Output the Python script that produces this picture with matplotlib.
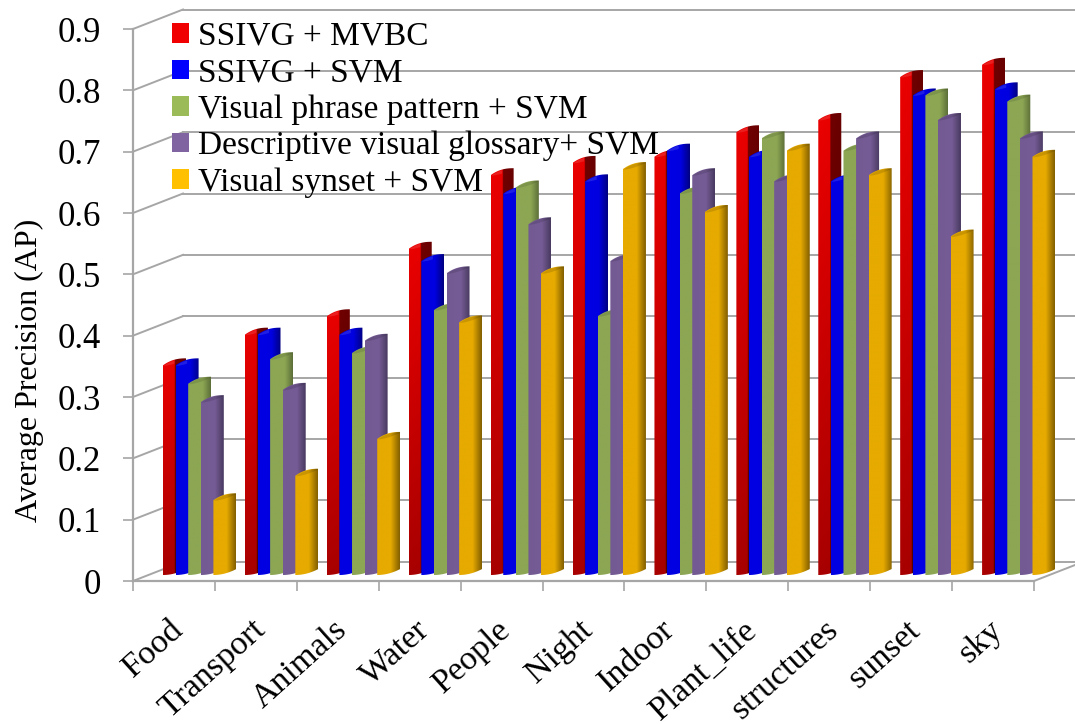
import numpy as np
from matplotlib import pyplot as plt
from matplotlib.patches import Patch, Polygon

categories = ['Food', 'Transport', 'Animals', 'Water', 'People', 'Night', 'Indoor',
              'Plant_life', 'structures', 'sunset', 'sky']
series_names = ['SSIVG + MVBC', 'SSIVG + SVM', 'Visual phrase pattern + SVM',
                'Descriptive visual glossary+ SVM', 'Visual synset + SVM']
ssivg_mvbc = [0.35, 0.40, 0.43, 0.54, 0.66, 0.68, 0.69, 0.73, 0.75, 0.82, 0.84]
ssivg_svm = [0.35, 0.40, 0.40, 0.52, 0.63, 0.65, 0.70, 0.69, 0.65, 0.79, 0.80]
phrase_svm = [0.32, 0.36, 0.37, 0.44, 0.64, 0.43, 0.63, 0.72, 0.70, 0.79, 0.78]
glossary_svm = [0.29, 0.31, 0.39, 0.50, 0.58, 0.52, 0.66, 0.65, 0.72, 0.75, 0.72]
synset_svm = [0.13, 0.17, 0.23, 0.42, 0.50, 0.67, 0.60, 0.70, 0.66, 0.56, 0.69]
y_ticks = [0, 0.1, 0.2, 0.3, 0.4, 0.5, 0.6, 0.7, 0.8, 0.9]
y_labels = ['0', '0.1', '0.2', '0.3', '0.4', '0.5', '0.6', '0.7', '0.8', '0.9']

all_series = [ssivg_mvbc, ssivg_svm, phrase_svm, glossary_svm, synset_svm]
legend_colors = ['#f00000', '#0000ff', '#9bbb59', '#8064a2', '#ffc000']
# horizontal shading of each bar: (position, rgb)
shades = [
    [(0, (235, 0, 0)), (0.51, (232, 0, 0)), (0.52, (112, 0, 0)), (1, (105, 0, 0))],
    [(0, (0, 0, 228)), (0.6, (0, 0, 225)), (1, (0, 0, 130))],
    [(0, (140, 166, 84)), (0.65, (140, 166, 84)), (1, (92, 110, 56))],
    [(0, (115, 90, 146)), (0.6, (118, 92, 150)), (1, (72, 58, 96))],
    [(0, (230, 170, 0)), (0.6, (230, 170, 0)), (1, (130, 95, 0))],
]
cap_dark = [0, 0, 0.1, 0.12, 0.12]
GRAY = '#a6a6a6'

# pixels to data units
PX_X = 11 / 901
PX_Y = 0.9 / 552


def shade_image(stops, fade):
    pos = np.linspace(0, 1, 64)
    img = np.zeros((32, 64, 3))
    for c in range(3):
        img[:, :, c] = np.interp(pos, [s[0] for s in stops], [s[1][c] for s in stops]) / 255
    if fade:
        # red gets darker towards the floor
        img *= np.linspace(0.72, 1, 32)[:, None, None]
    return img


def draw_bar(ax, left, value, stops, fade, dark, z):
    w = 23 * PX_X
    t = np.linspace(0, 1, 30)
    x = left + w * t
    base = 6 * PX_Y
    top = 8 * PX_Y + value
    upper = top - 7 * PX_Y * (1 - t) ** 2.4
    lower = top - 7 * PX_Y * (1 - t ** 1.6)
    bottom = base + 6 * PX_Y * t ** 2
    outline = np.r_[np.c_[x, upper], np.c_[x[::-1], bottom[::-1]]]
    shape = Polygon(outline, closed=True, fc='none', ec='none', zorder=z, clip_on=False)
    ax.add_patch(shape)
    im = ax.imshow(shade_image(stops, fade), extent=(left, left + w, base, top), origin='lower',
                   aspect='auto', interpolation='bilinear', zorder=z)
    im.set_clip_box(ax.figure.bbox)
    im.set_clip_path(shape)
    if dark > 0:
        ax.fill_between(x, lower, upper, color='black', alpha=dark, lw=0, zorder=z + 0.1, clip_on=False)
    else:
        ax.fill_between(x[:15], lower[:15], upper[:15], color='white', alpha=0.12, lw=0, zorder=z + 0.1,
                        clip_on=False)


plt.rcParams['font.family'] = ['Liberation Serif', 'DejaVu Serif']
fig = plt.figure(figsize=(10.75, 7.24), dpi=100)
ax = fig.add_axes([133 / 1075, (724 - 581) / 724, 901 / 1075, 552 / 724])

# back wall and floor of the 3d box
dx = 50 * PX_X
dy = 19.5 * PX_Y
for v in y_ticks:
    ax.plot([0, dx], [v, v + dy], color=GRAY, lw=1.4, zorder=1, clip_on=False)
    ax.plot([dx, 12], [v + dy, v + dy], color=GRAY, lw=1.4, zorder=1, clip_on=False)
ax.plot([11, 11 + dx], [0, dy], color=GRAY, lw=1.4, zorder=1, clip_on=False)

z = 2
for i in range(len(categories)):
    for j, values in enumerate(all_series):
        left = i + (30 + j * 12.6) * PX_X
        draw_bar(ax, left, values[i], shades[j], j == 0, cap_dark[j], z)
        z += 1

ax.set_xlim(0, 11)
ax.set_ylim(0, 0.9)
ax.set_facecolor('none')
for side in ['top', 'right']:
    ax.spines[side].set_visible(False)
for side in ['left', 'bottom']:
    ax.spines[side].set_color(GRAY)
    ax.spines[side].set_linewidth(1.6)

ax.set_yticks(y_ticks)
ax.set_yticklabels(y_labels, fontsize=25)
ax.tick_params(axis='y', length=7, width=1.2, color=GRAY, pad=16)
ax.set_xticks(range(12))
ax.set_xticklabels([])
ax.tick_params(axis='x', which='major', length=7, width=1.2, color=GRAY)
ax.set_xticks(np.arange(11) + 0.5 - 5 * PX_X, minor=True)
ax.set_xticklabels(categories, minor=True, rotation=42, ha='right', rotation_mode='anchor', fontsize=24.5)
ax.tick_params(axis='x', which='minor', length=0, pad=24)
ax.set_ylabel('Average Precision (AP)', fontsize=23, labelpad=10, y=0.382)

handles = [Patch(facecolor=c, edgecolor='none') for c in legend_colors]
leg = ax.legend(handles, series_names, loc='upper left', bbox_to_anchor=(0.043, 1.014), frameon=False,
                fontsize=24, handlelength=0.51, handleheight=0.51, handletextpad=0.27,
                labelspacing=0.18, borderpad=0, borderaxespad=0)
leg.set_zorder(500)

fig.savefig('out.png', dpi=100)
